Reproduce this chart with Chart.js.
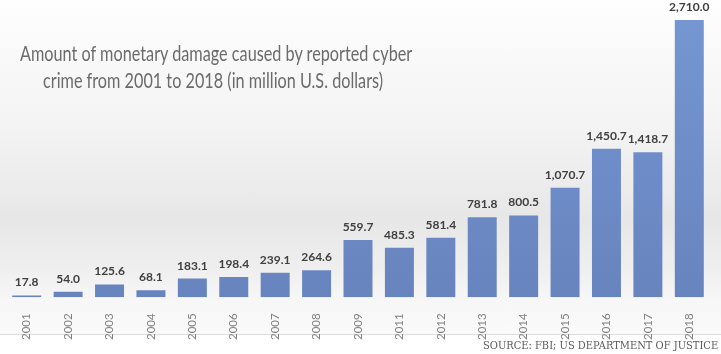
<!DOCTYPE html>
<html>
<head>
<meta charset="utf-8">
<script src="https://cdn.jsdelivr.net/npm/chart.js@4.4.1/dist/chart.umd.min.js"></script>
<style>
html, body { margin: 0; padding: 0; background: #fff; }
#wrap {
    position: relative; width: 721px; height: 354px; overflow: hidden;
    background: linear-gradient(to bottom, #fefefe 0px, #f3f3f3 130px, #e7e7e7 220px, #efefef 270px, #f7f7f7 300px, #fafafa 334px, #dedede 334px, #dedede 335px, #fff 335px, #fff 354px);
}
canvas { position: absolute; left: 0; top: 0; }
.txt { position: absolute; white-space: nowrap; line-height: 1; transform-origin: left top; }
.title { font-family: Lato, sans-serif; font-size: 22px; color: #6b6b6b; }
.source { font-family: "DejaVu Serif", serif; font-size: 11px; color: #5a5a5a; }
</style>
</head>
<body>
<div id="wrap">
    <canvas id="chart" width="721" height="354"></canvas>
    <span class="txt title" id="t1" data-left="20" data-w="392">Amount of monetary damage caused by reported cyber</span>
    <span class="txt title" id="t2" data-left="43" data-w="340">crime from 2001 to 2018 (in million U.S. dollars)</span>
    <span class="txt source" id="src" data-left="483" data-w="235">SOURCE: FBI; US DEPARTMENT OF JUSTICE</span>
</div>
<script>
const years = ['2001', '2002', '2003', '2004', '2005', '2006', '2007', '2008', '2009',
               '2011', '2012', '2013', '2014', '2015', '2016', '2017', '2018'];
const damage = [17.8, 54.0, 125.6, 68.1, 183.1, 198.4, 239.1, 264.6, 559.7,
                485.3, 581.4, 781.8, 800.5, 1070.7, 1450.7, 1418.7, 2710.0];

// text positions (top of line box)
document.getElementById('t1').style.top = '42px';
document.getElementById('t2').style.top = '69px';
document.getElementById('src').style.top = '340px';

function fitText() {
    document.querySelectorAll('.txt').forEach(el => {
        el.style.left = el.dataset.left + 'px';
        el.style.transform = 'none';
        const w = el.offsetWidth;
        el.style.transform = `scaleX(${el.dataset.w / w})`;
    });
}

// bar fill, light at top, a bit darker at the base
function barFill(context) {
    const chart = context.chart;
    const area = chart.chartArea;
    if (!area) return '#6f8fcb';
    const g = chart.ctx.createLinearGradient(0, area.top, 0, area.bottom);
    g.addColorStop(0, '#7596d1');
    g.addColorStop(1, '#6884bf');
    return g;
}

const valueLabels = {
    id: 'valueLabels',
    afterDatasetsDraw(chart) {
        const ctx = chart.ctx;
        const meta = chart.getDatasetMeta(0);
        ctx.save();
        ctx.font = 'bold 12px Lato, sans-serif';
        ctx.fillStyle = '#404040';
        ctx.textAlign = 'center';
        ctx.textBaseline = 'alphabetic';
        meta.data.forEach((bar, i) => {
            const txt = damage[i].toLocaleString('en-US', { minimumFractionDigits: 1, maximumFractionDigits: 1 });
            ctx.fillText(txt, bar.x, bar.y - 9);
        });
        ctx.restore();
    }
};

new Chart(document.getElementById('chart'), {
    type: 'bar',
    data: {
        labels: years,
        datasets: [{
            data: damage,
            backgroundColor: barFill,
            borderWidth: 0,
            categoryPercentage: 1,
            barPercentage: 0.7
        }]
    },
    options: {
        responsive: false,
        animation: false,
        layout: { padding: { left: 6, right: 11, top: 20, bottom: 6 } },
        scales: {
            x: {
                grid: { display: false },
                border: { display: false },
                ticks: {
                    color: '#7f7f7f',
                    font: { family: 'Lato', size: 11.5 },
                    minRotation: 90,
                    maxRotation: 90,
                    padding: 8
                }
            },
            y: { display: false, min: 0, max: 2710 }
        },
        plugins: {
            legend: { display: false },
            tooltip: { enabled: false }
        }
    },
    plugins: [valueLabels]
});

fitText();
if (document.fonts) document.fonts.ready.then(fitText);
</script>
</body>
</html>
